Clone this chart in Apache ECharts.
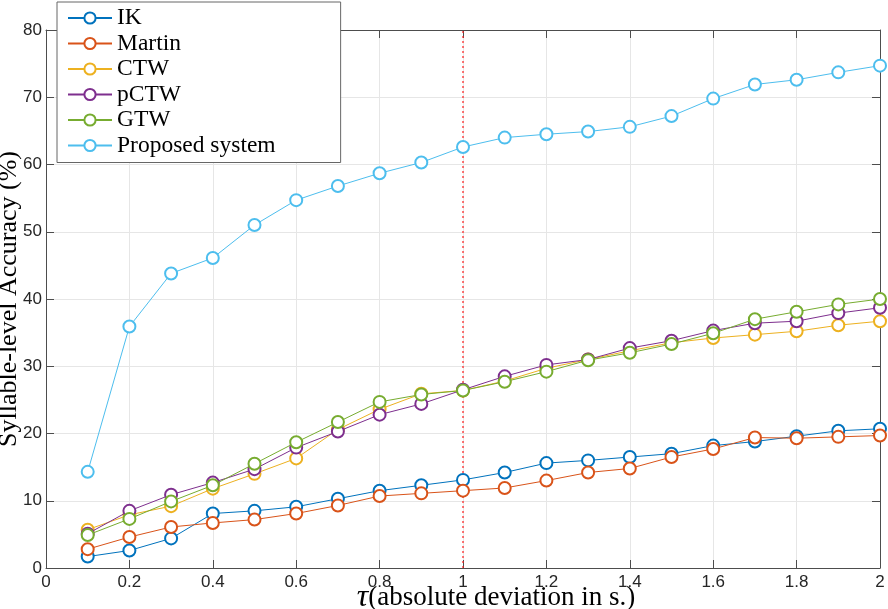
<!DOCTYPE html>
<html>
<head>
<meta charset="utf-8">
<script src="https://cdn.jsdelivr.net/npm/echarts@6/dist/echarts.min.js"></script>
<style>
html, body { margin: 0; padding: 0; background: #fff; }
#chart { width: 888px; height: 609px; }
</style>
</head>
<body>
<div id="chart"></div>
<script>
// tau values (s)
var taus = [0.1, 0.2, 0.3, 0.4, 0.5, 0.6, 0.7, 0.8, 0.9, 1.0, 1.1, 1.2, 1.3, 1.4, 1.5, 1.6, 1.7, 1.8, 1.9, 2.0];
var ik       = [1.7, 2.6, 4.4, 8.1, 8.5, 9.1, 10.3, 11.5, 12.3, 13.1, 14.2, 15.6, 16.0, 16.5, 17.0, 18.2, 18.8, 19.6, 20.4, 20.7];
var martin   = [2.8, 4.6, 6.1, 6.7, 7.2, 8.1, 9.3, 10.7, 11.1, 11.5, 11.9, 13.0, 14.2, 14.8, 16.5, 17.7, 19.4, 19.3, 19.5, 19.7];
var ctw      = [5.7, 7.9, 9.2, 11.8, 14.0, 16.3, 20.6, 23.6, 25.9, 26.4, 27.8, 29.7, 31.0, 32.3, 33.5, 34.2, 34.7, 35.2, 36.1, 36.7];
var pctw     = [5.1, 8.5, 10.9, 12.7, 14.7, 17.9, 20.3, 22.8, 24.4, 26.5, 28.5, 30.2, 31.0, 32.7, 33.8, 35.3, 36.4, 36.7, 37.9, 38.7];
var gtw      = [4.9, 7.3, 9.9, 12.3, 15.5, 18.7, 21.7, 24.7, 25.8, 26.4, 27.7, 29.2, 30.9, 32.0, 33.3, 34.9, 37.0, 38.1, 39.2, 40.0];
var proposed = [14.3, 35.9, 43.8, 46.1, 51.0, 54.7, 56.8, 58.7, 60.3, 62.6, 64.0, 64.5, 64.9, 65.6, 67.2, 69.8, 71.9, 72.6, 73.7, 74.7];
var refLine = [[1, 0], [1, 80]];

var names  = ['IK', 'Martin', 'CTW', 'pCTW', 'GTW', 'Proposed system'];
var colors = ['#0072BD', '#D95319', '#EDB120', '#7E2F8E', '#77AC30', '#4DBEEE'];
var values = [ik, martin, ctw, pctw, gtw, proposed];

function pairs(ys) {
    return taus.map(function(t, i) { return [t, ys[i]]; });
}

var axisColor = '#4d4d4d';
var tickFont = { fontFamily: 'Liberation Sans', fontSize: 17, color: '#262626' };

var series = values.map(function(ys, i) {
    return {
        name: names[i],
        type: 'line',
        data: pairs(ys),
        symbol: 'emptyCircle',
        symbolSize: 12,
        showSymbol: true,
        color: colors[i],
        lineStyle: { width: 1, color: colors[i] },
        itemStyle: { borderColor: colors[i], borderWidth: 1.5 },
        emphasis: { disabled: true },
        z: 3 + i
    };
});

// dotted reference line at tau = 1
series.push({
    name: 'ref',
    type: 'line',
    data: refLine,
    symbol: 'none',
    silent: true,
    color: '#ff0000',
    lineStyle: { type: [2, 3], width: 1.2, color: '#ff1a1a' },
    emphasis: { disabled: true },
    z: 2
});

var myChart = echarts.init(document.getElementById('chart'));
var option = {
    animation: false,
    backgroundColor: '#fff',
    grid: { left: 46, right: 8, top: 30, bottom: 41, containLabel: false, outerBoundsMode: 'none' },
    legend: {
        orient: 'vertical',
        left: 57,
        top: 2,
        data: names,
        itemWidth: 44,
        itemHeight: 14,
        itemGap: 1.5,
        padding: [4, 65, 5, 10],
        backgroundColor: '#fff',
        borderColor: '#666',
        borderWidth: 1,
        textStyle: { fontFamily: 'Liberation Serif', fontSize: 23.5, color: '#000' }
    },
    xAxis: [{
        type: 'value',
        min: 0, max: 2, interval: 0.2,
        name: '{t|τ}(absolute deviation in s.)',
        nameLocation: 'middle',
        nameGap: 14,
        nameMoveOverlap: false,
        nameTextStyle: {
            fontFamily: 'Liberation Serif', fontSize: 27, color: '#000',
            padding: [0, 0, 0, 66],
            rich: { t: { fontFamily: 'Liberation Serif', fontStyle: 'italic', fontSize: 32, color: '#000' } }
        },
        axisLine: { show: true, onZero: false, lineStyle: { color: axisColor, width: 1 } },
        axisTick: { show: true, inside: true, length: 8, lineStyle: { color: axisColor } },
        axisLabel: Object.assign({ margin: 6, formatter: function(v) { return String(+v.toFixed(1)); } }, tickFont),
        splitLine: { show: true, lineStyle: { color: '#e6e6e6', width: 1 } }
    }, {
        type: 'value',
        position: 'top',
        min: 0, max: 2, interval: 0.2,
        axisLine: { show: true, onZero: false, lineStyle: { color: axisColor, width: 1 } },
        axisTick: { show: true, inside: true, length: 8, lineStyle: { color: axisColor } },
        axisLabel: { show: false },
        splitLine: { show: false }
    }],
    yAxis: [{
        type: 'value',
        min: 0, max: 80, interval: 10,
        name: 'Syllable-level Accuracy (%)',
        nameLocation: 'middle',
        nameRotate: 90,
        nameGap: 24,
        nameMoveOverlap: false,
        nameTextStyle: { fontFamily: 'Liberation Serif', fontSize: 26, color: '#000' },
        axisLine: { show: true, onZero: false, lineStyle: { color: axisColor, width: 1 } },
        axisTick: { show: true, inside: true, length: 8, lineStyle: { color: axisColor } },
        axisLabel: Object.assign({ margin: 4 }, tickFont),
        splitLine: { show: true, lineStyle: { color: '#e6e6e6', width: 1 } }
    }, {
        type: 'value',
        position: 'right',
        min: 0, max: 80, interval: 10,
        axisLine: { show: true, onZero: false, lineStyle: { color: axisColor, width: 1 } },
        axisTick: { show: true, inside: true, length: 8, lineStyle: { color: axisColor } },
        axisLabel: { show: false },
        splitLine: { show: false }
    }],
    series: series
};
myChart.setOption(option);
</script>
</body>
</html>
